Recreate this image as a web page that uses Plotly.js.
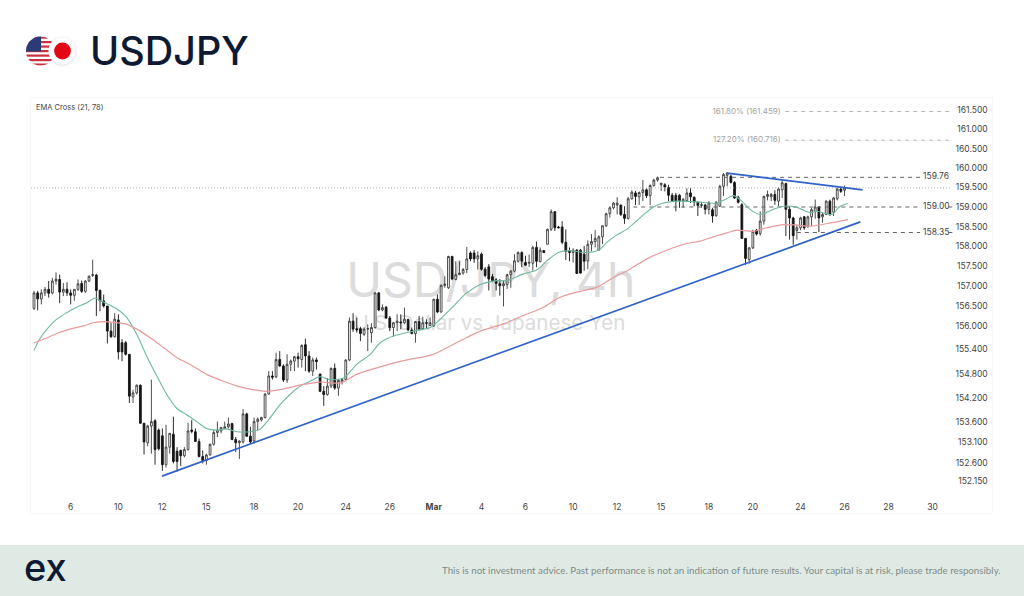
<!DOCTYPE html>
<html><head><meta charset="utf-8">
<script src="https://cdn.plot.ly/plotly-3.0.1.min.js"></script>
<style>html,body{margin:0;padding:0;background:#fff}#c{width:1024px;height:596px}</style></head>
<body><div id="c"></div>
<script>
const opens=[156.43,156.82,156.67,156.82,156.91,156.82,157.12,157.16,156.84,156.91,156.82,156.76,156.91,157.06,156.86,157.12,157.26,157.27,156.88,156.62,156.49,155.86,155.72,156.14,155.57,155.57,155.28,154.22,154.32,154.51,153.57,153.09,153.50,153.63,153.40,153.26,152.55,152.98,153.30,152.88,152.90,152.77,152.92,153.40,153.36,153.12,152.75,152.65,152.79,153.05,153.34,153.38,153.44,153.48,153.56,153.17,153.09,153.11,153.80,153.25,153.13,153.61,
153.65,153.71,154.29,154.74,154.72,155.15,154.99,154.64,155.03,155.11,155.22,155.15,155.52,155.24,154.86,155.14,154.79,154.36,154.28,154.49,154.93,154.44,154.59,154.65,155.14,156.11,155.92,155.92,155.78,155.91,155.82,155.95,156.82,156.39,156.46,156.19,155.95,156.07,156.09,156.07,156.15,155.89,155.80,156.10,155.92,156.07,156.00,155.99,156.66,156.34,157.01,156.95,157.74,157.16,157.28,157.32,157.41,157.83,157.83,157.68,
157.80,157.42,157.48,157.23,157.15,157.05,157.00,157.03,157.28,157.37,157.62,157.84,157.59,157.57,157.57,157.97,157.61,157.89,158.05,158.43,158.88,158.49,158.49,158.10,157.89,157.84,157.90,157.90,157.80,157.63,158.05,158.12,157.90,158.24,158.52,158.83,158.98,159.05,159.05,158.81,158.71,159.21,159.36,159.26,159.37,159.44,159.29,159.55,159.69,159.57,159.57,159.50,159.30,159.30,159.30,159.15,159.16,159.36,159.25,159.12,159.04,159.05,158.94,
158.93,158.78,159.02,159.53,159.81,159.79,159.63,159.25,159.06,158.20,157.66,157.96,158.41,158.32,158.64,159.27,159.26,159.32,159.15,159.44,159.60,158.94,158.72,158.40,158.47,158.75,158.51,158.75,158.89,159.00,158.75,158.81,159.15,158.87,159.21,159.46,159.43];
const highs=[156.87,156.87,156.91,156.97,157.12,157.20,157.34,157.28,157.07,157.09,156.91,156.91,157.16,157.13,157.14,157.26,157.66,157.30,156.91,156.78,156.49,156.07,156.31,156.28,155.66,155.61,155.28,154.40,154.53,154.53,153.57,153.53,154.65,153.67,153.44,153.44,153.53,153.33,153.73,152.98,152.92,152.98,153.58,153.65,153.44,153.19,152.90,152.82,153.07,153.40,153.61,153.48,153.61,153.71,153.58,153.23,153.15,153.92,153.83,153.48,153.71,153.71,
153.73,154.32,154.86,154.86,155.32,155.36,155.03,155.28,155.15,155.24,155.32,155.53,155.67,155.36,155.20,155.20,154.79,154.49,154.69,154.95,155.05,154.67,154.69,155.15,156.20,156.31,156.20,155.97,155.95,156.03,156.06,156.84,156.84,156.53,156.49,156.24,156.09,156.28,156.28,156.45,156.17,155.95,156.11,156.24,156.22,156.16,156.20,156.67,156.78,157.03,157.24,157.76,157.76,157.62,157.62,157.45,157.98,157.87,157.91,157.87,
157.84,157.47,157.55,157.30,157.19,157.17,157.13,157.30,157.40,157.80,157.87,157.87,157.76,157.79,158.01,158.12,157.97,157.90,158.45,158.94,158.89,158.52,158.64,158.43,157.97,157.95,157.93,157.93,158.01,158.15,158.31,158.41,158.28,158.53,158.85,159.02,159.13,159.25,159.06,159.02,159.26,159.43,159.41,159.40,159.69,159.48,159.58,159.72,159.78,159.61,159.61,159.57,159.36,159.36,159.33,159.23,159.48,159.48,159.27,159.15,159.13,159.08,159.15,
158.98,159.15,159.57,159.87,159.89,159.83,159.66,159.29,159.10,158.21,157.98,158.42,158.44,158.89,159.29,159.42,159.36,159.43,159.51,159.68,159.62,159.02,158.75,158.55,158.75,158.77,158.78,158.98,159.19,159.02,158.85,159.17,159.19,159.26,159.49,159.49,159.55];
const lows=[156.39,156.38,156.53,156.74,156.70,156.78,157.03,156.56,156.74,156.74,156.53,156.62,156.87,156.82,156.82,157.09,157.22,156.24,156.36,156.45,155.55,155.69,155.70,155.15,155.11,155.25,154.07,154.07,154.28,153.55,152.80,153.00,152.82,152.55,152.90,152.40,152.48,152.82,152.58,152.38,152.52,152.73,152.90,153.32,153.11,152.73,152.58,152.55,152.77,153.02,153.23,153.32,153.43,153.44,153.15,152.86,152.69,153.07,153.23,153.07,153.07,153.40,
153.61,153.69,154.28,154.65,154.69,154.97,154.59,154.57,154.86,154.86,154.95,154.95,154.86,154.82,154.74,154.90,154.34,154.00,154.25,154.44,154.40,154.25,154.53,154.61,155.11,155.84,155.82,155.61,155.74,155.36,155.57,155.92,156.36,156.36,156.17,155.86,155.72,155.86,155.91,156.03,155.86,155.78,155.57,155.89,155.89,155.91,155.99,155.97,156.31,156.32,156.95,156.92,157.14,157.14,157.28,157.28,157.32,157.62,157.58,157.41,
157.38,157.21,156.88,157.09,156.88,156.75,156.48,156.92,156.95,157.34,157.59,157.47,157.51,157.47,157.38,157.47,157.59,157.83,158.05,158.39,158.39,158.46,158.05,157.65,157.62,157.59,157.30,157.31,157.38,157.42,157.87,157.97,157.90,158.05,158.49,158.73,158.94,158.81,158.77,158.57,158.68,159.19,159.05,159.05,159.15,159.23,159.05,159.52,159.65,159.41,159.40,159.15,159.15,158.89,158.98,158.98,159.15,159.10,159.02,158.77,158.98,158.81,158.81,
158.60,158.75,159.00,159.28,159.53,159.60,159.21,159.09,158.19,157.53,157.56,157.93,158.27,158.27,158.55,159.17,159.15,159.06,159.02,159.23,158.26,158.17,158.04,158.17,158.41,158.42,158.47,158.51,158.70,158.36,158.60,158.79,158.77,158.77,159.17,159.36,159.28];
const closes=[156.82,156.67,156.82,156.91,156.81,157.12,157.17,156.84,156.91,156.82,156.76,156.91,157.05,156.86,157.12,157.24,157.28,156.88,156.62,156.49,155.86,155.72,156.16,155.34,155.34,155.28,154.24,154.32,154.51,153.57,153.11,153.50,153.61,152.92,152.94,152.55,152.98,153.32,152.63,152.63,152.77,152.92,153.38,153.37,153.12,152.75,152.65,152.79,153.05,153.34,153.40,153.46,153.48,153.55,153.17,153.09,153.13,153.80,153.25,153.11,153.61,153.67,
153.71,154.29,154.74,154.71,155.15,154.99,154.64,155.03,155.11,155.22,155.17,155.50,155.24,154.86,155.14,155.10,154.36,154.28,154.49,154.93,154.44,154.63,154.65,155.14,156.11,155.91,155.89,155.80,155.91,155.92,155.95,156.82,156.39,156.45,156.19,155.95,156.07,156.11,156.07,156.16,155.89,155.80,156.10,155.91,156.07,156.06,156.07,156.66,156.34,157.01,157.04,157.74,157.17,157.28,157.32,157.41,157.68,157.68,157.68,157.76,
157.42,157.26,157.17,157.13,157.06,157.00,157.05,157.28,157.37,157.63,157.84,157.62,157.52,157.59,157.97,157.62,157.90,157.84,158.43,158.88,158.47,158.47,158.10,157.87,157.84,157.90,157.31,157.32,157.62,158.05,158.12,158.20,158.24,158.52,158.83,158.98,159.10,159.10,158.81,158.71,159.21,159.38,159.27,159.37,159.44,159.29,159.55,159.69,159.75,159.61,159.51,159.30,159.16,159.15,159.16,159.19,159.36,159.26,159.13,159.04,159.06,158.94,159.10,
158.77,159.12,159.53,159.83,159.87,159.63,159.23,159.12,158.20,157.69,157.96,158.38,158.31,158.64,159.27,159.32,159.32,159.17,159.46,159.62,158.94,158.72,158.27,158.47,158.72,158.47,158.75,158.93,159.00,158.72,158.81,159.15,158.81,159.23,159.46,159.40,159.49];

const emaFastX=[0,1.6,3.9,6.2,8.9,11.6,14.4,16.6,18,20.3,22.5,25.3,28,30.7,33.5,36.2,38.9,41.6,44.4,47,49.8,52.5,55.3,59,61.6,63.9,67.1,69.8,72.6,75.3,78,80.7,84.4,88,91.7,94.4,98,103.5,108,110.8,114.4,118,121.7,126.2,128.9,133.4,137.1,139.8,143,146.2,149.8,153.9,156.2,158.9,161.6,165.3,168.9,171.6,175.3,180.7,186.1,188.4,190.7,193,195.2,198,201.6,204.3,208,211.6,213.4,217.5,219.8,221.9];
const emaFast=[155.38,155.67,155.95,156.16,156.32,156.46,156.57,156.69,156.63,156.53,156.42,156.20,155.78,155.24,154.74,154.28,153.94,153.78,153.61,153.44,153.40,153.43,153.36,153.36,153.42,153.65,154.03,154.28,154.49,154.61,154.72,154.65,154.69,155.03,155.28,155.57,155.74,155.86,155.95,156.16,156.49,156.82,157.03,157.13,157.13,157.30,157.40,157.63,157.84,157.89,157.84,157.90,158.10,158.29,158.43,158.73,159.00,159.10,159.15,159.13,159.10,159.19,159.29,159.15,158.94,158.81,158.94,159.02,158.99,158.85,158.89,158.81,159.02,159.09];
const emaSlowX=[0,2.5,6.2,9.8,13.5,16.2,18.9,22.5,25.3,28,31.6,35.3,38.9,42.5,47.1,51.6,56.2,59.8,63,67.1,73.5,78,83.5,88,95.3,101.7,108.9,114.4,118,121.7,128,133.4,138.9,143.4,148.9,153.4,158,162.5,167.1,172.5,178,181.6,185.2,188.9,191.6,196.1,199.8,204.3,208,211.6,217.5,221.9];
const emaSlow=[155.57,155.65,155.80,155.91,155.99,156.07,156.10,156.07,156.03,155.91,155.70,155.45,155.20,155.03,154.78,154.61,154.47,154.40,154.36,154.40,154.53,154.59,154.57,154.78,154.99,155.14,155.28,155.53,155.70,155.86,156.04,156.25,156.46,156.71,156.86,156.96,157.21,157.42,157.68,157.90,158.07,158.13,158.24,158.34,158.41,158.38,158.47,158.55,158.54,158.51,158.60,158.68];

const supportX=[34.9,225.3], supportY=[152.27,158.62];
const resistX=[189,225.9], resistY=[159.87,159.44];
const priceLineX=[-0.8,249.8], priceLineY=[159.49,159.49];
const level1X=[170.7,241.6], level1Y=[159.76,159.76];
const level2X=[163.4,241.6,null,249.3,250.4], level2Y=[159.00,159.00,null,159.00,159.00];
const level3X=[208,241.6,null,249.3,250.4], level3Y=[158.35,158.35,null,158.35,158.35];
const fib1X=[204.8,249.8], fib1Y=[161.459,161.459];
const fib2X=[204.8,249.8], fib2Y=[160.716,160.716];
const levelLabelX=[242.4,242.4,242.4], levelLabelY=[159.76,159.00,158.35], levelLabels=['159.76','159.00','158.35'];
const fibLabelX=[203.6,203.6], fibLabelY=[161.459,160.716], fibLabels=['161.80% (161.459)','127.20% (160.716)'];

const xTickVals=[10,23,35,47,60,72,85,97,109,122,134,147,159,171,184,196,209,221,233,245];
const xTickText=['6','10','12','15','18','20','24','26','<b>Mar</b>','4','6','10','12','15','18','20','24','26','28','30'];
const yTickVals=[161.5,161,160.5,160,159.5,159,158.5,158,157.5,157,156.5,156,155.4,154.8,154.2,153.6,153.1,152.6,152.15];
const yTickText=['161.500','161.000','160.500','160.000','159.500','159.000','158.500','158.000','157.500','157.000','156.500','156.000','155.400','154.800','154.200','153.600','153.100','152.600','152.150'];

const W=1024,H=596;
const px=v=>v/W, py=v=>1-v/H;
const idx=opens.map((_,i)=>i);
const lvlStyle={color:'#666',width:1,dash:'4px,4px'};
const fibStyle={color:'#b5b5b5',width:1,dash:'4px,4px'};
const T={xaxis:'x2',yaxis:'y2',hoverinfo:'skip',showlegend:false};
const traces=[
 {type:'scatter',mode:'text',xaxis:'x',yaxis:'y',x:[0.4785,0.477],y:[0.549,0.453],
  text:['USD/JPY, 4h','U.S. Dollar vs Japanese Yen'],
  textfont:{family:'Inter, sans-serif',size:[48,20.5],color:'#dcdcdc'},textposition:'middle center',hoverinfo:'skip',showlegend:false},
 {...T,type:'scatter',mode:'lines',x:priceLineX,y:priceLineY,line:{color:'#a9b3b8',width:1,dash:'1px,2px'}},
 {...T,type:'scatter',mode:'lines',x:fib1X,y:fib1Y,line:fibStyle},
 {...T,type:'scatter',mode:'lines',x:fib2X,y:fib2Y,line:fibStyle},
 {...T,type:'scatter',mode:'lines',x:level1X,y:level1Y,line:lvlStyle},
 {...T,type:'scatter',mode:'lines',x:level2X,y:level2Y,line:lvlStyle},
 {...T,type:'scatter',mode:'lines',x:level3X,y:level3Y,line:lvlStyle},
 {...T,type:'candlestick',x:idx,open:opens,high:highs,low:lows,close:closes,width:0.68,whiskerwidth:0,
  increasing:{line:{color:'#3a3a3a',width:0.9},fillcolor:'#ffffff'},
  decreasing:{line:{color:'#141414',width:0.9},fillcolor:'#141414'}},
 {...T,type:'scatter',mode:'lines',x:emaFastX,y:emaFast,line:{color:'#6fb8a4',width:1.1,shape:'spline',smoothing:0.8}},
 {...T,type:'scatter',mode:'lines',x:emaSlowX,y:emaSlow,line:{color:'#e99a9b',width:1.2,shape:'spline',smoothing:0.8}},
 {...T,type:'scatter',mode:'lines',x:supportX,y:supportY,line:{color:'#2f63c8',width:1.7}},
 {...T,type:'scatter',mode:'lines',x:resistX,y:resistY,line:{color:'#2f63c8',width:1.7}},
 {...T,type:'scatter',mode:'text',x:levelLabelX,y:levelLabelY,text:levelLabels,textposition:'middle right',textfont:{family:'Inter, sans-serif',size:8.5,color:'#444'}},
 {...T,type:'scatter',mode:'text',x:fibLabelX,y:fibLabelY,text:fibLabels,textposition:'middle left',textfont:{family:'Inter, sans-serif',size:8,color:'#a3a3a3'}}
];
const flag='<svg xmlns="http://www.w3.org/2000/svg" width="180" height="120" viewBox="0 0 60 40"><defs><clipPath id="u"><circle cx="15.5" cy="20" r="14.5"/></clipPath><filter id="s" x="-30%" y="-30%" width="160%" height="160%"><feGaussianBlur stdDeviation="1.2"/></filter></defs><circle cx="37" cy="20.5" r="14" fill="#000" opacity=".12" filter="url(#s)"/><g clip-path="url(#u)"><rect x="0" y="5" width="31" height="30" fill="#fff"/>'+
 [5.5,10,14.5,19,23.5,28,32.5].map(y=>'<rect x="0" y="'+y+'" width="31" height="2.2" fill="#c8323c"/>').join('')+
 '<rect x="0" y="5" width="16" height="15.5" fill="#2c3b78"/></g><circle cx="37" cy="20" r="13.5" fill="#fff"/><circle cx="37.5" cy="20" r="8.4" fill="#e30613"/></svg>';
const layout={
 width:W,height:H,margin:{l:0,r:0,t:0,b:0,pad:0},paper_bgcolor:'#fff',plot_bgcolor:'rgba(0,0,0,0)',showlegend:false,
 xaxis:{domain:[px(31),px(992)],range:[0,1],visible:false,fixedrange:true},
 yaxis:{domain:[py(513),py(98)],range:[0,1],visible:false,fixedrange:true},
 xaxis2:{overlaying:'x',anchor:'y2',domain:[px(31),px(992)],range:[-0.82,261.2],rangeslider:{visible:false},tickmode:'array',tickvals:xTickVals,ticktext:xTickText,
   ticks:'',ticklabelposition:'inside',showgrid:false,zeroline:false,showline:true,mirror:true,linecolor:'#f8f8f8',linewidth:1,tickfont:{family:'Inter, sans-serif',size:8.5,color:'#444'}},
 yaxis2:{overlaying:'y',anchor:'x2',side:'right',type:'log',range:[Math.log10(151.37),Math.log10(161.81)],domain:[py(513),py(98)],tickmode:'array',tickvals:yTickVals,ticktext:yTickText,
   ticks:'',ticklabelposition:'inside',ticklabelstandoff:3,showgrid:false,zeroline:false,showline:true,mirror:true,linecolor:'#f8f8f8',linewidth:1,tickfont:{family:'Inter, sans-serif',size:8.5,color:'#444'}},
 shapes:[{type:'rect',xref:'paper',yref:'paper',x0:0,x1:1,y0:0,y1:py(545),fillcolor:'#e0eae5',line:{width:0},layer:'below'}],
 images:[{source:'data:image/svg+xml;charset=utf-8,'+encodeURIComponent(flag),xref:'paper',yref:'paper',x:px(25),y:py(31),sizex:60/W,sizey:40/H,sizing:'stretch',xanchor:'left',yanchor:'top',layer:'above'}],
 annotations:[
  {text:'USDJPY',xref:'paper',yref:'paper',x:px(88),y:py(51),xanchor:'left',yanchor:'middle',showarrow:false,font:{family:'Inter, sans-serif',size:39.5,weight:500,color:'#0e1a33'}},
  {text:'EMA Cross (21, 78)',xref:'paper',yref:'paper',x:px(34),y:py(108),xanchor:'left',yanchor:'middle',showarrow:false,font:{family:'Inter, sans-serif',size:7.5,color:'#444'}},
  {text:'ex',xref:'paper',yref:'paper',x:px(22),y:py(567),xanchor:'left',yanchor:'middle',showarrow:false,font:{family:'Inter, sans-serif',size:38,weight:500,color:'#0e1a33'}},
  {text:'This is not investment advice. Past performance is not an indication of future results. Your capital is at risk, please trade responsibly.',xref:'paper',yref:'paper',x:px(1003),y:py(570),xanchor:'right',yanchor:'middle',showarrow:false,font:{family:'Lato, sans-serif',size:9.75,color:'#7e8a88'}}
 ]
};
Plotly.newPlot('c',traces,layout,{displayModeBar:false,staticPlot:true});
</script></body></html>
